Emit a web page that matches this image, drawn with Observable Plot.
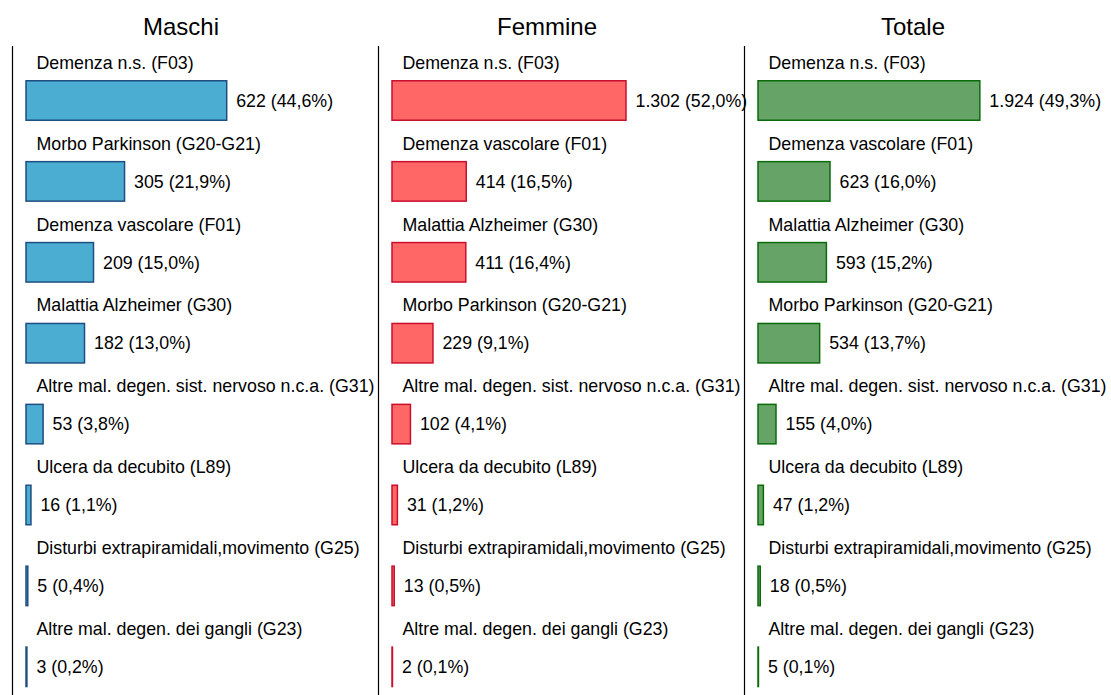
<!DOCTYPE html>
<html>
<head>
<meta charset="utf-8">
<script src="https://cdn.jsdelivr.net/npm/d3@7"></script>
<script src="https://cdn.jsdelivr.net/npm/@observablehq/plot@0.6"></script>
<style>
  body { margin: 0; background: #fff; font-family: "Liberation Sans", Arial, sans-serif; }
  #wrap { position: relative; width: 1111px; height: 695px; overflow: hidden; }
  .title { position: absolute; top: 15px; width: 366px; text-align: center; font-size: 24px; line-height: 24px; color: #000; }
  .panel { position: absolute; top: 46px; }
  .panel svg { background: transparent !important; overflow: visible; max-width: none !important; }
</style>
</head>
<body>
<div id="wrap"></div>
<script>
const panelTitles = ["Maschi", "Femmine", "Totale"];

const maschiCategories = [
  "Demenza n.s. (F03)",
  "Morbo Parkinson (G20-G21)",
  "Demenza vascolare (F01)",
  "Malattia Alzheimer (G30)",
  "Altre mal. degen. sist. nervoso n.c.a. (G31)",
  "Ulcera da decubito (L89)",
  "Disturbi extrapiramidali,movimento (G25)",
  "Altre mal. degen. dei gangli (G23)"
];
const maschiCounts = [622, 305, 209, 182, 53, 16, 5, 3];
const maschiPercents = [44.6, 21.9, 15.0, 13.0, 3.8, 1.1, 0.4, 0.2];

const femmineCategories = [
  "Demenza n.s. (F03)",
  "Demenza vascolare (F01)",
  "Malattia Alzheimer (G30)",
  "Morbo Parkinson (G20-G21)",
  "Altre mal. degen. sist. nervoso n.c.a. (G31)",
  "Ulcera da decubito (L89)",
  "Disturbi extrapiramidali,movimento (G25)",
  "Altre mal. degen. dei gangli (G23)"
];
const femmineCounts = [1302, 414, 411, 229, 102, 31, 13, 2];
const femminePercents = [52.0, 16.5, 16.4, 9.1, 4.1, 1.2, 0.5, 0.1];

const totaleCategories = [
  "Demenza n.s. (F03)",
  "Demenza vascolare (F01)",
  "Malattia Alzheimer (G30)",
  "Morbo Parkinson (G20-G21)",
  "Altre mal. degen. sist. nervoso n.c.a. (G31)",
  "Ulcera da decubito (L89)",
  "Disturbi extrapiramidali,movimento (G25)",
  "Altre mal. degen. dei gangli (G23)"
];
const totaleCounts = [1924, 623, 593, 534, 155, 47, 18, 5];
const totalePercents = [49.3, 16.0, 15.2, 13.7, 4.0, 1.2, 0.5, 0.1];

const fills = ["#4BADD2", "#FF6666", "#66A366"];
const strokes = ["#1F4E80", "#C8102E", "#0B6B0B"];

const itLocale = d3.formatLocale({decimal: ",", thousands: ".", grouping: [3], currency: ["", " €"]});
const fmtN = itLocale.format(",d");
const fmtP = itLocale.format(".1f");

const panelData = [
  [maschiCategories, maschiCounts, maschiPercents],
  [femmineCategories, femmineCounts, femminePercents],
  [totaleCategories, totaleCounts, totalePercents]
];

const wrap = document.getElementById("wrap");
const PW = 366;
const FS = 17.8;

panelData.forEach(([cats, counts, pcts], i) => {
  const rows = cats.map((c, k) => ({
    rank: k, cat: c, n: counts[k], pct: pcts[k],
    label: `${fmtN(counts[k])} (${fmtP(pcts[k])}%)`
  }));

  const t = document.createElement("div");
  t.className = "title";
  t.style.left = (i * PW - 2) + "px";
  t.textContent = panelTitles[i];
  wrap.appendChild(t);

  const chart = Plot.plot({
    width: PW,
    height: 649,
    marginLeft: 12,
    marginRight: 0,
    marginTop: 0,
    marginBottom: 0,
    style: {fontFamily: "'Liberation Sans', Arial, sans-serif", background: "transparent", overflow: "visible"},
    x: {type: "linear", domain: [0, 75], range: [26, 26 + 75 * 4.5], axis: null},
    y: {type: "band", domain: d3.range(8), range: [14.05, 661.25], paddingInner: 0.512, paddingOuter: 0.256, align: 0.5, round: false, axis: null},
    marks: [
      Plot.frame({anchor: "left", stroke: "#000", strokeWidth: 1.2}),
      Plot.barX(rows, {x: "pct", y: "rank", fill: fills[i], stroke: strokes[i], strokeWidth: 1.5}),
      Plot.text(rows, {x: d => 0, y: "rank", text: "cat", textAnchor: "start", dx: 10, dy: -38, fontSize: FS, fill: "#000"}),
      Plot.text(rows, {x: "pct", y: "rank", text: "label", textAnchor: "start", dx: 9, dy: 0, fontSize: FS, fill: "#000"})
    ]
  });
  const div = document.createElement("div");
  div.className = "panel";
  div.style.left = (i * PW) + "px";
  div.appendChild(chart);
  wrap.appendChild(div);
});
</script>
</body>
</html>
